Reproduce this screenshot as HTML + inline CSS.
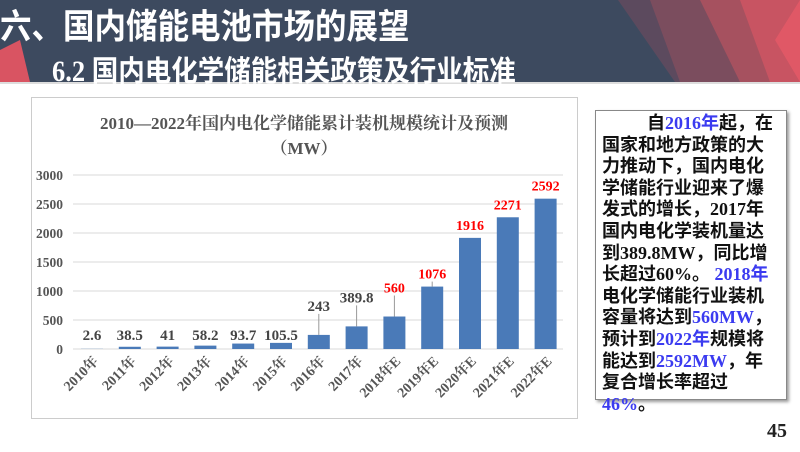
<!DOCTYPE html>
<html><head><meta charset="utf-8"><style>
body{margin:0;width:800px;height:452px;overflow:hidden;background:#fff;font-family:"Liberation Sans","Noto Sans CJK SC",sans-serif;position:relative}
.hdr{position:absolute;left:0;top:0;width:800px;height:82px;background:#3d4a5f;border-bottom:2px solid #ddd}
.t1{position:absolute;left:0px;top:-1px;color:#fff;font-size:31.5px;font-weight:bold;font-family:"Noto Sans CJK SC",sans-serif;transform:scaleY(1.1);transform-origin:0 0}
.t2{position:absolute;left:52px;top:47px;color:#fff;font-size:26.5px;font-weight:bold;font-family:"Liberation Serif","Noto Sans CJK SC",sans-serif;transform:scaleY(1.1);transform-origin:0 0}
.box{position:absolute;left:595px;top:110px;width:190px;height:288px;border:1px solid #888;box-shadow:2px 2px 3px #999;background:#fff}
.txt{position:absolute;left:602px;top:113px;width:176px;font-size:18px;font-weight:bold;line-height:21.6px;font-family:"Liberation Serif","Noto Sans CJK SC",sans-serif;color:#111}
.txt div{height:21.6px;white-space:nowrap}
.b{color:#3b3bf0}
.pg{position:absolute;left:767px;top:420px;font:bold 20px "Liberation Serif",serif;color:#222}
</style></head><body>
<div class="hdr"></div>
<svg style="position:absolute;left:0;top:0" width="800" height="84">
<polygon points="618,0 700,0 680,82 675,82" fill="#5c4a5e"/>
<polygon points="650,0 800,0 800,82 680,82" fill="#7b4d5e"/>
<polygon points="700,0 800,0 800,82 740,82" fill="#a6515f"/>
<polygon points="740,0 800,0 800,82 770,82" fill="#c85462"/>
<polygon points="775,40 800,0 800,82" fill="#e05866"/>
<polygon points="0,50 20,40 30,82 0,82" fill="#d95462"/>
</svg>
<div class="t1">六、国内储能电池市场的展望</div>
<div class="t2">6.2 国内电化学储能相关政策及行业标准</div>
<svg style="position:absolute;left:0;top:0" width="800" height="452" font-family="Liberation Serif,Noto Serif CJK SC,serif">
<rect x="31.5" y="97.5" width="546" height="321" fill="none" stroke="#ccc"/>
<text x="304" y="129" text-anchor="middle" font-size="17" font-weight="bold" fill="#555">2010—2022年国内电化学储能累计装机规模统计及预测</text>
<text x="304" y="154" text-anchor="middle" font-size="17" font-weight="bold" fill="#555">（MW）</text>
<g stroke="#d9d9d9">
<line x1="73" x2="563" y1="175" y2="175"/><line x1="73" x2="563" y1="204" y2="204"/><line x1="73" x2="563" y1="233" y2="233"/><line x1="73" x2="563" y1="262" y2="262"/><line x1="73" x2="563" y1="291" y2="291"/><line x1="73" x2="563" y1="320" y2="320"/><line x1="73" x2="563" y1="349" y2="349"/>
</g>
<g font-size="13.5" font-weight="bold" fill="#555" text-anchor="end">
<text x="63" y="180">3000</text><text x="63" y="209">2500</text><text x="63" y="238">2000</text><text x="63" y="267">1500</text><text x="63" y="296">1000</text><text x="63" y="325">500</text><text x="63" y="354">0</text>
</g>
<g fill="#4a7ab8" id="bars"></g>
<g id="lab"></g>
</svg>
<div class="box"></div>
<div class="txt">
<div>&emsp;&emsp;&ensp;自<span class="b">2016年</span>起，在</div>
<div>国家和地方政策的大</div>
<div>力推动下，国内电化</div>
<div>学储能行业迎来了爆</div>
<div>发式的增长，2017年</div>
<div>国内电化学装机量达</div>
<div>到389.8MW，同比增</div>
<div>长超过60%。 <span class="b">2018年</span></div>
<div>电化学储能行业装机</div>
<div>容量将达到<span class="b">560MW</span>，</div>
<div>预计到<span class="b">2022年</span>规模将</div>
<div>能达到<span class="b">2592MW</span>，年</div>
<div>复合增长率超过</div>
<div><span class="b">46%</span>。</div>
</div>
<div class="pg">45</div>
<script>
var v=[2.6,38.5,41,58.2,93.7,105.5,243,389.8,560,1076,1916,2271,2592];
var n=["2010年","2011年","2012年","2013年","2014年","2015年","2016年","2017年","2018年E","2019年E","2020年E","2021年E","2022年E"];
var s="",l="";
for(var i=0;i<13;i++){var cx=92+i*37.8,h=v[i]*0.058,y=349-h;
s+='<rect x="'+(cx-11)+'" y="'+y+'" width="22" height="'+h+'"/>';
var red=i>=8,ly=i<6?340:y-(i<9?24:8);
if(i>=6&&i<=9)l+='<line x1="'+cx+'" x2="'+cx+'" y1="'+(ly+3)+'" y2="'+y+'" stroke="#999"/>';
l+='<text x="'+cx+'" y="'+ly+'" text-anchor="middle" font-size="'+(red?14:15)+'" font-weight="bold" fill="'+(red?'#f00':'#444')+'">'+v[i]+'</text>';
l+='<text transform="translate('+(cx+7)+',362) rotate(-45)" text-anchor="end" font-size="14" font-weight="bold" fill="#555">'+n[i]+'</text>';}
document.getElementById("bars").innerHTML=s;document.getElementById("lab").innerHTML=l;
</script>
</body></html>
